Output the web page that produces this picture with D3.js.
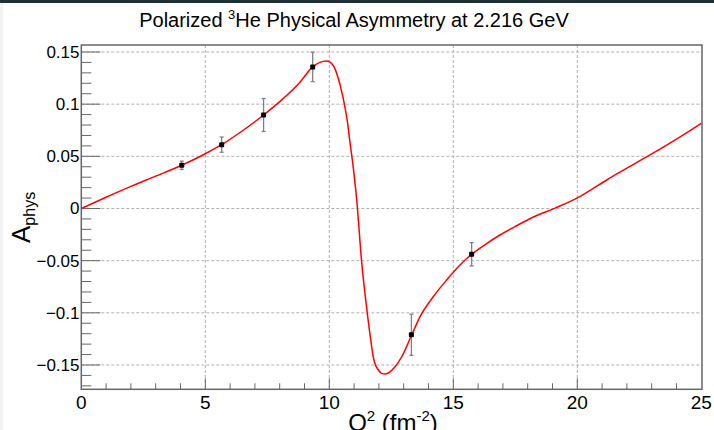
<!DOCTYPE html>
<html>
<head>
<meta charset="utf-8">
<script src="https://cdn.jsdelivr.net/npm/d3@7"></script>
<style>
    body { margin: 0; background: #fff; }
    svg { display: block; font-family: "Liberation Sans", Arial, sans-serif; }
</style>
</head>
<body>
<svg id="chart" width="714" height="430"></svg>
<script>
// Measured points (Q^2 in fm^-2, asymmetry, stat error)
var pointQ2 = [4.05, 5.66, 7.35, 9.33, 13.31, 15.74];
var pointA = [0.0414, 0.0612, 0.0896, 0.1357, -0.121, -0.0439];
var pointErr = [0.004, 0.0073, 0.0158, 0.0141, 0.0197, 0.0112];

// Theory curve
var curveQ2 = [0, 1, 2, 3, 4.05, 5, 5.66, 6.5, 7.35, 8.15, 8.8, 9.33, 9.62, 9.9, 10.16,
    10.36, 10.5, 10.6, 10.73, 10.83, 10.97, 11.1, 11.3, 11.53, 11.71, 11.77, 11.84, 11.98,
    12.11, 12.25, 12.45, 12.65, 12.92, 13.32, 13.66, 14.19, 14.73, 15.27, 15.74, 16.3, 16.88,
    17.5, 18.23, 19.1, 20.04, 20.8, 21.59, 22.93, 24.0, 25];
var curveA = [0, 0.0108, 0.0212, 0.031, 0.0414, 0.0525, 0.0612, 0.0745, 0.0896, 0.1055,
    0.1205, 0.1357, 0.140, 0.1414, 0.137,
    0.1248, 0.112, 0.1009, 0.0832, 0.064, 0.0385, 0.0098, -0.05, -0.1, -0.1325, -0.1421, -0.1485, -0.1548,
    -0.158, -0.1587, -0.1565, -0.1517, -0.1421, -0.1213, -0.1037, -0.0846, -0.0686, -0.0542, -0.0439, -0.0343, -0.0254,
    -0.0172, -0.0082, 0.0003, 0.0107, 0.0216, 0.0331, 0.0513, 0.0665, 0.0817];

var xTicks = [0, 5, 10, 15, 20, 25];
var yTicks = [-0.15, -0.1, -0.05, 0, 0.05, 0.1, 0.15];

var svg = d3.select('#chart');
var frameLeft = 81.3, frameRight = 702, frameTop = 45, frameBottom = 389.3;

var x = d3.scaleLinear().domain([0, 25]).range([frameLeft, 701.3]);
var y = d3.scaleLinear().domain([-0.1733, 0.1567]).range([frameBottom, frameTop]);

// window chrome strips
svg.append('rect').attr('x', 0).attr('y', 0).attr('width', 714).attr('height', 3).attr('fill', '#1e3034');
svg.append('rect').attr('x', 0).attr('y', 3).attr('width', 3).attr('height', 427).attr('fill', '#f3f3f3');

// grid
var grid = svg.append('g')
    .style('stroke', '#b0b0b0')
    .style('stroke-width', 1)
    .style('stroke-dasharray', '3,2');
grid.selectAll('line.vx')
    .data(xTicks.filter(function(d) { return d > 0 && d < 25; }))
    .enter().append('line')
    .attr('x1', function(d) { return x(d); }).attr('x2', function(d) { return x(d); })
    .attr('y1', frameTop).attr('y2', frameBottom);
grid.selectAll('line.hy')
    .data(yTicks)
    .enter().append('line')
    .attr('x1', frameLeft).attr('x2', frameRight)
    .attr('y1', function(d) { return y(d); }).attr('y2', function(d) { return y(d); });

// ticks (drawn inward, ROOT style)
var tickG = svg.append('g').style('stroke', '#666').style('stroke-width', 1);
var yMinor = d3.range(-17, 16).map(function(i) { return i / 100; });
tickG.selectAll('line.ymin')
    .data(yMinor)
    .enter().append('line')
    .attr('x1', frameLeft)
    .attr('x2', function(d) { return frameLeft + (Math.abs(Math.round(d * 100)) % 5 === 0 ? 19 : 10); })
    .attr('y1', function(d) { return y(d); }).attr('y2', function(d) { return y(d); });
tickG.selectAll('line.xmin')
    .data(d3.range(1, 25))
    .enter().append('line')
    .attr('x1', function(d) { return x(d); }).attr('x2', function(d) { return x(d); })
    .attr('y1', frameBottom)
    .attr('y2', function(d) { return frameBottom - (d % 5 === 0 ? 11 : 6); });

// frame
svg.append('rect')
    .attr('x', frameLeft).attr('y', frameTop)
    .attr('width', frameRight - frameLeft).attr('height', frameBottom - frameTop)
    .style('fill', 'none')
    .style('stroke', '#666')
    .style('stroke-width', 1.5);

// tick labels
svg.selectAll('text.ylab')
    .data(yTicks)
    .enter().append('text')
    .attr('x', 79.5)
    .attr('y', function(d) { return y(d) + 6; })
    .attr('text-anchor', 'end')
    .attr('font-size', 17)
    .attr('fill', '#000')
    .text(function(d) { return d === 0 ? '0' : (d < 0 ? '\u2212' : '') + String(Math.abs(d)); });
svg.selectAll('text.xlab')
    .data(xTicks)
    .enter().append('text')
    .attr('x', function(d) { return x(d); })
    .attr('y', 408.5)
    .attr('text-anchor', 'middle')
    .attr('font-size', 19)
    .attr('fill', '#000')
    .text(function(d) { return d; });

// curve
var line = d3.line()
    .x(function(d) { return x(d[0]); })
    .y(function(d) { return y(d[1]); })
    .curve(d3.curveMonotoneX);
svg.append('path')
    .datum(d3.zip(curveQ2, curveA))
    .attr('d', line)
    .style('fill', 'none')
    .style('stroke', '#ff0000')
    .style('stroke-width', 1.5);

// error bars
var pts = d3.range(pointQ2.length);
var errG = svg.append('g').style('stroke', '#808080').style('stroke-width', 1.3);
errG.selectAll('line.bar')
    .data(pts)
    .enter().append('line')
    .attr('x1', function(i) { return x(pointQ2[i]); })
    .attr('x2', function(i) { return x(pointQ2[i]); })
    .attr('y1', function(i) { return y(pointA[i] - pointErr[i]); })
    .attr('y2', function(i) { return y(pointA[i] + pointErr[i]); });
[-1, 1].forEach(function(s) {
    errG.selectAll('line.cap' + s)
        .data(pts)
        .enter().append('line')
        .attr('x1', function(i) { return x(pointQ2[i]) - 2; })
        .attr('x2', function(i) { return x(pointQ2[i]) + 2; })
        .attr('y1', function(i) { return y(pointA[i] + s * pointErr[i]); })
        .attr('y2', function(i) { return y(pointA[i] + s * pointErr[i]); });
});
svg.selectAll('rect.pt')
    .data(pts)
    .enter().append('rect')
    .attr('x', function(i) { return x(pointQ2[i]) - 2.5; })
    .attr('y', function(i) { return y(pointA[i]) - 2.5; })
    .attr('width', 5).attr('height', 5)
    .attr('rx', 1)
    .attr('fill', '#000');

// title
var title = svg.append('text')
    .attr('x', 354).attr('y', 27)
    .attr('text-anchor', 'middle')
    .attr('font-size', 20)
    .attr('fill', '#000');
title.append('tspan').text('Polarized ');
title.append('tspan').attr('font-size', 13).attr('dy', -8).text('3');
title.append('tspan').attr('dy', 8).text('He Physical Asymmetry at 2.216 GeV');

// x title
var xt = svg.append('text')
    .attr('x', 393).attr('y', 431)
    .attr('text-anchor', 'middle')
    .attr('font-size', 24)
    .attr('fill', '#000');
xt.append('tspan').text('Q');
xt.append('tspan').attr('font-size', 15).attr('dy', -10).text('2');
xt.append('tspan').attr('dy', 10).text(' (fm');
xt.append('tspan').attr('font-size', 15).attr('dy', -10).text('-2');
xt.append('tspan').attr('dy', 10).text(')');

// y title
var yt = svg.append('text')
    .attr('transform', 'translate(30, 243) rotate(-90)')
    .attr('font-size', 26)
    .attr('fill', '#000');
yt.append('tspan').text('A');
yt.append('tspan').attr('font-size', 16).attr('dy', 5).text('phys');
</script>
</body>
</html>
